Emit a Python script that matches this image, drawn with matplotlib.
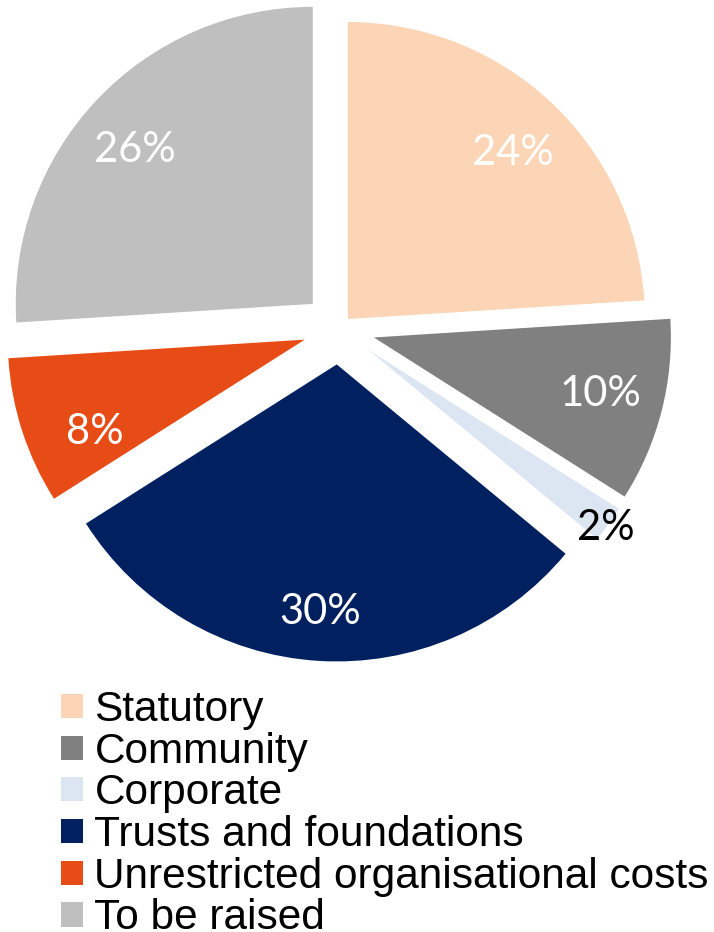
import matplotlib
matplotlib.use("Agg")
import matplotlib.pyplot as plt
import numpy as np

labels = ["Statutory", "Community", "Corporate", "Trusts and foundations",
          "Unrestricted organisational costs", "To be raised"]
shares = [24, 10, 2, 30, 8, 26]
colors = ["#FBD5B5", "#808080", "#DCE6F2", "#002060", "#E84C16", "#BFBFBF"]

W, H = 714, 932
R = 297
# pie explode is in data units here (pixels)
explode = [13, 36, 36, 36, 36, 36]
# label placement: distance (fraction of radius) and small turn (deg) from mid-angle
label_r = [0.787, 0.788, 1.0, 0.836, 0.773, 0.792]
label_turn = [-1.7, 0.4, -0.85, -0.3, 5.7, 2.3]

fig = plt.figure(figsize=(W / 100, H / 100), dpi=100)
ax = fig.add_axes([0, 0, 1, 1])

wedges, _, autotexts = ax.pie(
    shares, colors=colors, explode=explode, startangle=90, counterclock=False,
    center=(339, H - 328.5), radius=R, autopct="%.0f%%", pctdistance=0.79,
    textprops=dict(color="white", fontsize=30, family="Lato"),
    wedgeprops=dict(linewidth=0),
)

for w, t, lr, turn in zip(wedges, autotexts, label_r, label_turn):
    mid = np.deg2rad((w.theta1 + w.theta2) / 2 + turn)
    cx, cy = w.center
    t.set_position((cx + lr * R * np.cos(mid), cy + lr * R * np.sin(mid)))

# the 2% label sits outside its thin slice, in black
autotexts[2].set_color("black")

ax.set_xlim(0, W)
ax.set_ylim(0, H)
ax.set_aspect("equal")
ax.axis("off")

ax.legend(wedges, labels, loc="upper left", bbox_to_anchor=(61 / W, 1 - 690 / H),
          frameon=False, prop=dict(family="Liberation Sans", size=30.5),
          handlelength=0.51, handleheight=0.5, handletextpad=0.28,
          labelspacing=0.04, borderaxespad=0, borderpad=0)

fig.savefig("out.png", dpi=100)
